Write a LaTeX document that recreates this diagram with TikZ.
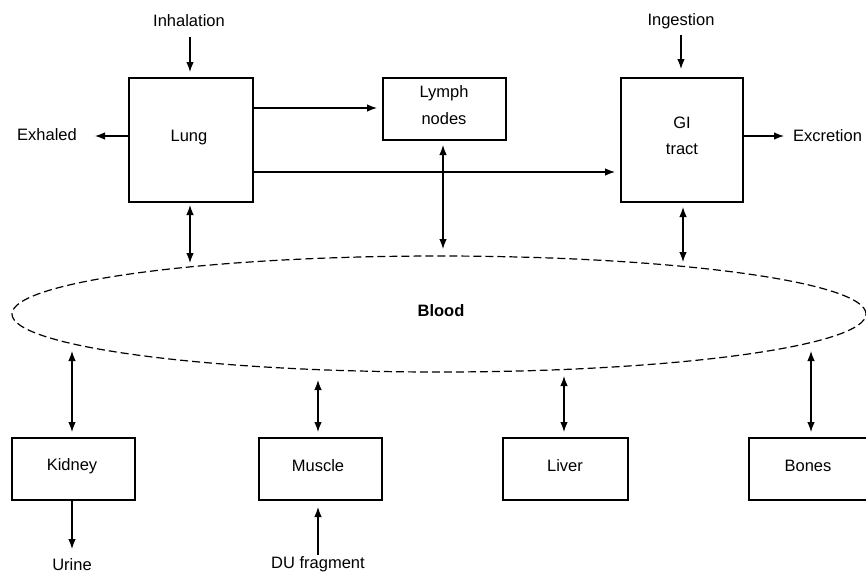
\documentclass[tikz,border=0pt]{standalone}
\usepackage{fontspec}
\setmainfont{Liberation Sans}
\usetikzlibrary{arrows.meta,shapes.geometric}
\begin{document}
\begin{tikzpicture}[x=1pt,y=-1pt,
  every node/.style={font=\fontsize{16.5}{20}\selectfont, inner sep=0pt},
  box/.style={draw, line width=1.2pt, minimum width=#1},
  box/.default=123pt,
  arr/.style={line width=1.2pt, -{Latex[length=10pt,width=7.5pt]}},
  dbl/.style={line width=1.2pt, {Latex[length=10pt,width=7.5pt]}-{Latex[length=10pt,width=7.5pt]}}]
\useasboundingbox (0,0) rectangle (866,574);
\clip (0,0) rectangle (866,574);
\fill[white] (0,0) rectangle (866,574);
% upper boxes
\node[box=124pt, minimum height=124pt] (lung) at (191,140) {};
\node at (189,138) {Lung};
\node[box=123pt, minimum height=62pt] (lymph) at (444.5,109) {};
\node[align=center] at (444,105) {Lymph\\[7pt]nodes};
\node[box=122pt, minimum height=124pt] (gi) at (682,140) {};
\node[align=center] at (682,136) {GI\\[6pt]tract};
% blood
\node[ellipse, draw, dashed, dash pattern=on 8pt off 4pt, line width=1.2pt, minimum width=854pt, minimum height=116pt] (blood) at (439,314) {};
\node[font=\fontsize{16.5}{20}\selectfont\bfseries] at (441,311) {Blood};
% lower boxes
\node[box, minimum height=62pt] (kidney) at (73.5,469) {};
\node at (72,466) {Kidney};
\node[box, minimum height=62pt] (muscle) at (320.5,469) {};
\node at (318,466) {Muscle};
\node[box=125pt, minimum height=62pt] (liver) at (565.5,469) {};
\node at (565,466) {Liver};
\node[box=124pt, minimum height=62pt] (bones) at (811,469) {};
\node at (808,466) {Bones};
% free labels
\node (inh) at (189,21) {Inhalation};
\node (ing) at (681,21) {Ingestion};
\node[anchor=east] (exh) at (77,135) {Exhaled};
\node[anchor=west] (exc) at (793,136) {Excretion};
\node (urine) at (72,565) {Urine};
\node (du) at (318,564) {DU fragment};
% coordinates
\coordinate (inhA) at (190,37);
\coordinate (inhB) at (190,72);
\coordinate (ingA) at (681,35);
\coordinate (ingB) at (681,69);
\coordinate (exhB) at (95,136);
\coordinate (excB) at (784,136);
\coordinate (lymA) at (253,108);
\coordinate (lymB) at (377,108);
\coordinate (giA) at (253,172);
\coordinate (giB) at (615,172);
\coordinate (lb1) at (190,205);
\coordinate (lb2) at (190,263);
\coordinate (yb1) at (443,145);
\coordinate (yb2) at (443,249);
\coordinate (gb1) at (683,207);
\coordinate (gb2) at (683,262);
\coordinate (kb1) at (72,351);
\coordinate (kb2) at (72,432);
\coordinate (mb1) at (318,380);
\coordinate (mb2) at (318,432);
\coordinate (vb1) at (564,376);
\coordinate (vb2) at (564,432);
\coordinate (bb1) at (811,351);
\coordinate (bb2) at (811,432);
\coordinate (ku1) at (72,500);
\coordinate (ku2) at (72,549);
\coordinate (dm1) at (318,555);
\coordinate (dm2) at (318,507);
% connectors
\draw[arr] (inhA) -- (inhB);
\draw[arr] (ingA) -- (ingB);
\draw[arr] (lung.west |- exhB) -- (exhB);
\draw[arr] (gi.east |- excB) -- (excB);
\draw[arr] (lymA) -- (lymB);
\draw[arr] (giA) -- (giB);
\draw[dbl] (lb1) -- (lb2);
\draw[dbl] (yb1) -- (yb2);
\draw[dbl] (gb1) -- (gb2);
\draw[dbl] (kb1) -- (kb2);
\draw[dbl] (mb1) -- (mb2);
\draw[dbl] (vb1) -- (vb2);
\draw[dbl] (bb1) -- (bb2);
\draw[arr] (ku1) -- (ku2);
\draw[arr] (dm1) -- (dm2);
\end{tikzpicture}
\end{document}
